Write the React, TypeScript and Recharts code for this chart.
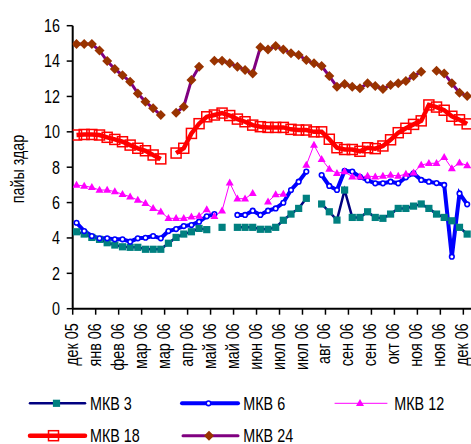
import React from 'react'
import { LineChart, Line, XAxis, YAxis } from 'recharts'

// weekly rates, Dec 2005 .. Dec 2006 (null = no auction that week)
const tickLabels = [
  'дек 05', 'янв 06', 'фев 06', 'мар 06', 'мар 06', 'апр 06', 'май 06', 'май 06', 'июн 06',
  'июл 06', 'июл 06', 'авг 06', 'сен 06', 'сен 06', 'окт 06', 'ноя 06', 'ноя 06', 'дек 06',
]

const mkv3 = [
  4.35, 4.22, 4.03, 3.92, 3.73, 3.6, 3.5, 3.47, 3.47, 3.36, 3.36, 3.36, 3.7,
  4.03, 4.22, 4.35, 4.54, 4.47, null, 4.6, null, 4.6, 4.6, 4.6, 4.49, 4.49,
  4.6, 5.0, 5.35, 5.67, 6.24, null, 5.92, 5.48, 5.01, 6.71, 5.16, 5.16, 5.48,
  5.16, 5.11, 5.35, 5.67, 5.67, 5.8, 5.92, 5.67, 5.35, 5.16, 4.97, 4.6, 4.22,
]
const mkv6 = [
  4.86, 4.39, 4.11, 3.98, 3.98, 3.92, 3.92, 3.79, 3.98, 4.01, 4.11, 3.98, 4.39,
  4.5, 4.67, 4.73, 4.92, 5.22, 5.35, null, null, 5.3, 5.3, 5.54, 5.3, 5.54,
  5.67, 5.99, 6.71, 7.18, 7.75, null, 7.56, 6.94, 6.71, 7.8, 7.75, 7.45, 7.26,
  7.09, 7.09, 7.18, 7.09, 7.43, 7.65, 7.28, 7.18, 7.1, 7.0, 2.94, 6.52, 5.9,
]
const mkv12 = [
  6.99, 6.94, 6.86, 6.71, 6.71, 6.62, 6.47, 6.33, 6.14, 5.96, 5.67, 5.48, 5.11,
  5.11, 5.11, 5.2, 5.24, 5.6, 5.22, 5.54, 7.12, 6.22, 6.22, 6.52, null, 6.05,
  6.45, 6.48, null, null, 8.12, 9.25, 8.45, 7.9, 7.65, 7.75, 7.46, 7.46, 7.5,
  7.46, 7.5, 7.56, 7.5, 7.61, 7.69, 8.12, 8.22, 8.22, 8.56, 7.93, 8.25, 8.1,
]
const mkv18 = [
  9.82, 9.85, 9.85, 9.82, 9.69, 9.57, 9.44, 9.25, 9.07, 8.93, 8.69, 8.47, null,
  8.8, 9.07, 9.91, 10.46, 10.85, 10.95, 11.06, 10.92, 10.72, 10.57, 10.38, 10.29, 10.25,
  10.25, 10.25, 10.14, 10.1, 10.1, 10.0, 10.0, 9.58, 9.1, 9.0, 9.0, 8.9, 9.1,
  9.05, 9.2, 9.55, 9.95, 10.2, 10.42, 10.62, 11.52, 11.4, 11.22, 10.88, 10.68, 10.45,
]
const mkv24 = [
  14.96, 14.96, 14.96, 14.6, 14.0, 13.55, 13.2, 12.83, 12.17, 11.7, 11.33, 10.95, null,
  11.08, 11.42, 12.93, 13.68, null, 14.02, 14.02, 13.87, 13.68, 13.5, 13.3, 14.78, 14.66,
  14.85, 14.66, 14.44, 14.34, 14.06, 13.87, 13.72, 13.15, 12.55, 12.7, 12.55, 12.46, 12.74,
  12.59, 12.42, 12.65, 12.74, 12.87, 13.15, 13.4, null, 13.45, 13.3, 12.74, 12.21, 12.02,
]

const data = mkv3.map((v, i) => ({
  i,
  mkv3: v,
  mkv6: mkv6[i],
  mkv12: mkv12[i],
  mkv18: mkv18[i],
  mkv24: mkv24[i],
}))

const W = 471
const H = 444
const PLOT_LEFT = 72.7
const PLOT_TOP = 25.7
const PLOT_BOTTOM = 308.7
const N = data.length
const halfStep = (W - PLOT_LEFT) / N / 2
const xTicks = tickLabels.map((_, k) => k * 3 - 0.5)
const yTicks = [0, 2, 4, 6, 8, 10, 12, 14, 16]

const FONT = "'Liberation Sans', Arial, sans-serif"
const FS = 17.5
const NARROW = 0.82

function NText({ x, y, rotate = 0, anchor = 'start', children }: any) {
  return (
    <text
      transform={`translate(${x},${y}) rotate(${rotate}) scale(${NARROW},1)`}
      textAnchor={anchor}
      fontFamily={FONT}
      fontSize={FS}
      fill="#000"
    >
      {children}
    </text>
  )
}

function XTick(props: any) {
  const { x, y, index } = props
  return (
    <g>
      <line x1={x} y1={y} x2={x} y2={y + 6} stroke="#000" strokeWidth={1.5} />
      <NText x={x + halfStep + 1.2} y={y + 14.5} rotate={-90} anchor="end">
        {tickLabels[index]}
      </NText>
    </g>
  )
}

function YTick(props: any) {
  const { y, payload } = props
  return (
    <g>
      <line x1={PLOT_LEFT - 6} y1={y} x2={PLOT_LEFT} y2={y} stroke="#000" strokeWidth={1.5} />
      <NText x={60} y={y + 6.3} anchor="end">
        {payload.value}
      </NText>
    </g>
  )
}

// markers
const square = (cx: number, cy: number, key?: any) => (
  <rect key={key} x={cx - 3.6} y={cy - 3.6} width={7.2} height={7.2} fill="#008080" />
)
const circle = (cx: number, cy: number, key?: any) => (
  <circle key={key} cx={cx} cy={cy} r={2.3} fill="#fff" stroke="#0000FF" strokeWidth={1.6} />
)
const triangle = (cx: number, cy: number, key?: any) => (
  <path key={key} d={`M${cx},${cy - 4.3} L${cx + 4},${cy + 2.7} L${cx - 4},${cy + 2.7} Z`} fill="#FF00FF" />
)
const openSquare = (cx: number, cy: number, key?: any) => (
  <rect key={key} x={cx - 5} y={cy - 5} width={10} height={10} fill="none" stroke="#FF0000" strokeWidth={1.5} />
)
const diamond = (cx: number, cy: number, key?: any) => (
  <path key={key} d={`M${cx},${cy - 5} L${cx + 5},${cy} L${cx},${cy + 5} L${cx - 5},${cy} Z`} fill="#993300" />
)

const dotFrom = (draw: (cx: number, cy: number, key?: any) => React.ReactElement) => (p: any) => {
  const { cx, cy, index } = p
  if (cx == null || cy == null) return <g key={`e-${index}`} />
  return draw(cx, cy, `d-${index}`)
}

const series = [
  { key: 'mkv3', name: 'МКВ 3', stroke: '#000080', width: 2.5, marker: square },
  { key: 'mkv6', name: 'МКВ 6', stroke: '#0000FF', width: 4, marker: circle },
  { key: 'mkv12', name: 'МКВ 12', stroke: '#FF00FF', width: 1, marker: triangle },
  { key: 'mkv18', name: 'МКВ 18', stroke: '#FF0000', width: 4.5, marker: openSquare },
  { key: 'mkv24', name: 'МКВ 24', stroke: '#800080', width: 3, marker: diamond },
]

const legendPos = [
  { x1: 30, x2: 85, mx: 56.5, tx: 90, y: 403.3 },
  { x1: 182, x2: 238, mx: 208.5, tx: 243.3, y: 403.3 },
  { x1: 335, x2: 387, mx: 360, tx: 394.3, y: 403.3 },
  { x1: 30, x2: 85, mx: 53.5, tx: 90, y: 435.7 },
  { x1: 183, x2: 238, mx: 209, tx: 243.3, y: 435.7 },
]

export default function App() {
  return (
    <div style={{ position: 'absolute', left: 0, top: 0, width: W, height: H, background: '#fff' }}>
      <LineChart
        width={W}
        height={H}
        data={data}
        margin={{ top: PLOT_TOP, right: 0, bottom: H - PLOT_BOTTOM - 40, left: PLOT_LEFT - 60 }}
      >
        <XAxis
          type="number"
          dataKey="i"
          domain={[-0.5, N - 0.5]}
          allowDataOverflow
          ticks={xTicks}
          interval={0}
          height={40}
          tickSize={0}
          tickMargin={0}
          tickLine={false}
          axisLine={{ stroke: '#000', strokeWidth: 2 }}
          tick={<XTick />}
        />
        <YAxis
          type="number"
          domain={[0, 16]}
          ticks={yTicks}
          interval={0}
          width={60}
          tickSize={0}
          tickMargin={0}
          tickLine={false}
          axisLine={{ stroke: '#000', strokeWidth: 2 }}
          tick={<YTick />}
        />
        {series.map((s) => (
          <Line
            key={s.key}
            type="linear"
            dataKey={s.key}
            name={s.name}
            stroke={s.stroke}
            strokeWidth={s.width}
            dot={dotFrom(s.marker)}
            activeDot={false}
            isAnimationActive={false}
          />
        ))}
      </LineChart>
      <svg
        width={W}
        height={H}
        style={{ position: 'absolute', left: 0, top: 0, pointerEvents: 'none' }}
      >
        <NText x={24} y={169} rotate={-90} anchor="middle">
          пайы здар
        </NText>
        {series.map((s, k) => {
          const p = legendPos[k]
          return (
            <g key={s.key}>
              <line
                x1={p.x1}
                y1={p.y}
                x2={p.x2}
                y2={p.y}
                stroke={s.stroke}
                strokeWidth={s.width}
                strokeLinecap="round"
              />
              {s.marker(p.mx, p.y)}
              <NText x={p.tx} y={p.y + 6.3}>
                {s.name}
              </NText>
            </g>
          )
        })}
      </svg>
    </div>
  )
}
